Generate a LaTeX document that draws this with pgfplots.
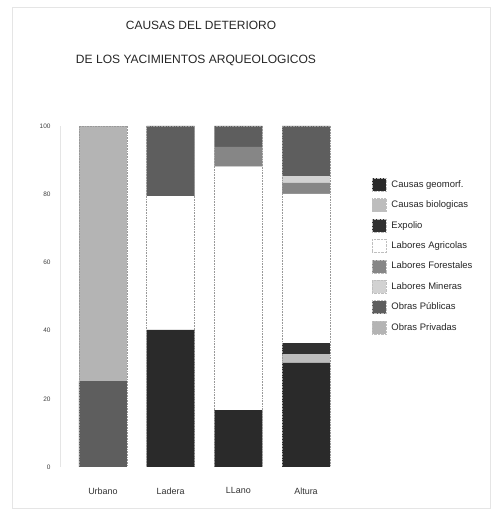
\documentclass[border=0pt]{standalone}
\usepackage{pgfplots}
\pgfplotsset{compat=1.18}
\usepackage{fontspec}
\setmainfont{Liberation Sans}

\definecolor{cgeo}{HTML}{2A2A2A}
\definecolor{cbio}{HTML}{BDBDBD}
\definecolor{cexp}{HTML}{303030}
\definecolor{cagr}{HTML}{FFFFFF}
\definecolor{cfor}{HTML}{868686}
\definecolor{cmin}{HTML}{D2D2D2}
\definecolor{cpub}{HTML}{5E5E5E}
\definecolor{cpri}{HTML}{B4B4B4}

\begin{document}
\begin{tikzpicture}[x=1bp,y=1bp]
\path[use as bounding box] (0,0) rectangle (494,512);
\draw[gray!20] (12,4) rectangle (490,505);
\node[font=\fontsize{12}{14}\selectfont, text=black!85] at (201,487) {CAUSAS DEL DETERIORO};
\node[font=\fontsize{12.1}{14}\selectfont, text=black!85] at (196,452) {DE LOS YACIMIENTOS ARQUEOLOGICOS};
\begin{axis}[
    at={(60bp,45bp)}, anchor=south west,
    scale only axis, width=290bp, height=341bp,
    xmin=-0.635, xmax=3.65, ymin=0, ymax=100,
    ybar stacked, bar width=48bp,
    axis x line=none, axis y line*=left,
    y axis line style={gray!20, -},
    major tick length=0pt,
    ytick={0,20,...,100},
    /pgf/number format/assume math mode=true,
    yticklabel style={font=\fontsize{6.5}{7}\selectfont, text=black!75, xshift=-6bp},
    legend style={at={(rel axis cs:1.065,0.854)}, anchor=north west,
        draw=none, font=\fontsize{9.5}{11}\selectfont, text=black!85,
        row sep=7bp, column sep=3bp},
    legend cell align=left,
    legend image code/.code={
        \draw[#1, draw=gray!50, densely dotted, /tikz/.cd, bar width=14bp, bar shift=0pt, yshift=-6.5bp]
            plot coordinates {(7bp,13bp)};
    },
]
\addplot[draw=none, fill=cgeo] coordinates {(0,0) (1,40.2) (2,16.7) (3,30.5)};
\addplot[draw=none, fill=cbio] coordinates {(0,0) (1,0) (2,0) (3,2.6)};
\addplot[draw=none, fill=cexp] coordinates {(0,0) (1,0) (2,0) (3,3.2)};
\addplot[draw=none, fill=cagr] coordinates {(0,0) (1,39.2) (2,71.4) (3,43.8)};
\addplot[draw=none, fill=cfor] coordinates {(0,0) (1,0) (2,5.8) (3,3.2)};
\addplot[draw=none, fill=cmin] coordinates {(0,0) (1,0) (2,0) (3,2.1)};
\addplot[draw=none, fill=cpub] coordinates {(0,25.2) (1,20.6) (2,6.1) (3,14.6)};
\addplot[draw=none, fill=cpri] coordinates {(0,74.8) (1,0) (2,0) (3,0)};
\legend{Causas geomorf.,Causas biologicas,Expolio,Labores Agricolas,Labores Forestales,Labores Mineras,Obras Públicas,Obras Privadas}
\end{axis}
\begin{axis}[
    at={(60bp,45bp)}, anchor=south west,
    scale only axis, width=290bp, height=341bp,
    xmin=-0.635, xmax=3.65, ymin=0, ymax=100,
    ybar, bar width=48bp,
    axis line style={draw=none},
    major tick length=0pt,
    ytick=\empty,
    xtick=data,
    xticklabels={Urbano,Ladera,LLano,Altura},
    x tick label style={font=\fontsize{9}{10}\selectfont, text=black!80, yshift=-17bp},
]
\addplot[draw=gray!80, densely dotted, line width=0.6pt, fill=none] coordinates {(0,100) (1,100) (2,100) (3,100)};
\end{axis}
\end{tikzpicture}
\end{document}
